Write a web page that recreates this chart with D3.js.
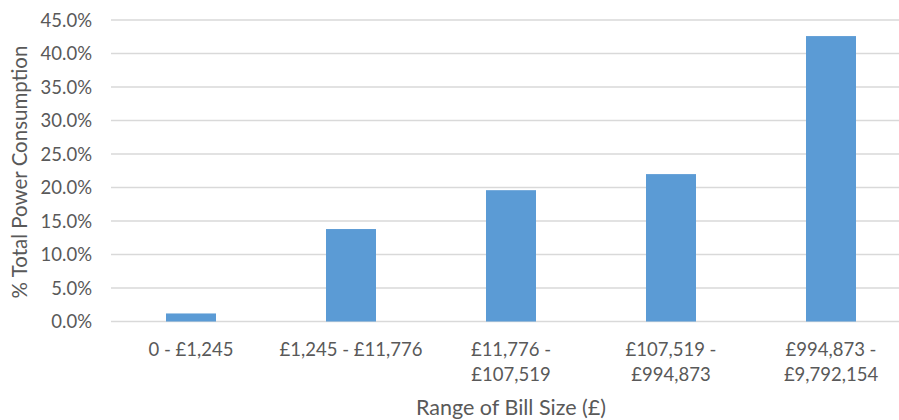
<!DOCTYPE html>
<html>
<head>
<meta charset="utf-8">
<script src="https://cdn.jsdelivr.net/npm/d3@7"></script>
<style>
  body { margin: 0; background: #fff; }
  svg text { font-family: Lato, "Open Sans", sans-serif; fill: #595959; }
</style>
</head>
<body>
<svg id="chart" width="899" height="420"></svg>
<script>
// bill size ranges (two-line labels where Excel wrapped them)
const categories = ["0 - £1,245", "£1,245 - £11,776", "£11,776 - £107,519", "£107,519 - £994,873", "£994,873 - £9,792,154"];
const labelLines = [["0 - £1,245"], ["£1,245 - £11,776"], ["£11,776 -", "£107,519"], ["£107,519 -", "£994,873"], ["£994,873 -", "£9,792,154"]];
const values = [1.2, 13.8, 19.6, 22.0, 42.6];
const yTicks = [0, 5, 10, 15, 20, 25, 30, 35, 40, 45];

const svg = d3.select("#chart");

const x = d3.scaleBand().domain(categories).range([111, 911]).paddingInner(0.6875).paddingOuter(0.34375);
const y = d3.scaleLinear().domain([0, 45]).range([321.5, 20]);

// gridlines
svg.append("g").selectAll("line").data(yTicks).join("line")
  .attr("x1", 111).attr("x2", 899)
  .attr("y1", d => y(d)).attr("y2", d => y(d))
  .attr("stroke", "#d9d9d9").attr("stroke-width", 1.3);

// y labels
svg.append("g").selectAll("text").data(yTicks).join("text")
  .attr("x", 92).attr("y", d => y(d)).attr("dy", "0.36em")
  .attr("text-anchor", "end").style("font-size", "18.5px")
  .text(d => d.toFixed(1) + "%");

// bars
svg.append("g").selectAll("rect").data(values).join("rect")
  .attr("x", (d, i) => x(categories[i]))
  .attr("width", x.bandwidth())
  .attr("y", d => y(d))
  .attr("height", d => y(0) - y(d))
  .attr("fill", "#5b9bd5");

// x labels
const xl = svg.append("g").selectAll("text").data(labelLines).join("text")
  .attr("text-anchor", "middle").style("font-size", "18.5px")
  .attr("transform", (d, i) => `translate(${x(categories[i]) + x.bandwidth() / 2},356)`);
xl.selectAll("tspan").data(d => d).join("tspan")
  .attr("x", 0).attr("y", (d, i) => i * 25).text(d => d);

// axis titles
svg.append("text").attr("x", 511).attr("y", 415).attr("text-anchor", "middle")
  .style("font-size", "21.5px").text("Range of Bill Size (£)");
svg.append("text").attr("transform", "translate(27,172) rotate(-90)").attr("text-anchor", "middle")
  .style("font-size", "20.5px").text("% Total Power Consumption");
</script>
</body>
</html>
